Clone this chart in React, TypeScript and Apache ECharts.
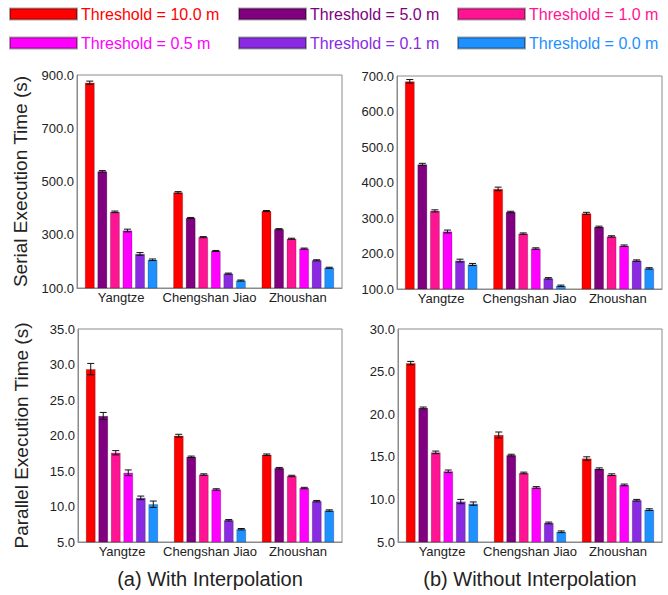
import React, { useEffect, useRef } from "react";
import * as echarts from "echarts";

const categories = ["Yangtze", "Chengshan Jiao", "Zhoushan"];
const thresholds = [
  "Threshold = 10.0 m",
  "Threshold = 5.0 m",
  "Threshold = 1.0 m",
  "Threshold = 0.5 m",
  "Threshold = 0.1 m",
  "Threshold = 0.0 m",
];
const colors = ["#FF0000", "#800080", "#FF1493", "#FF00FF", "#8A2BE2", "#1E90FF"];

// values per threshold (rows) across categories (columns)
const serialWith = [
  [871, 459, 389],
  [538, 363, 321],
  [386, 291, 285],
  [316, 239, 248],
  [228, 154, 204],
  [206, 128, 176],
];
const serialWithErr = [
  [6, 3, 2],
  [3, 2, 2],
  [3, 2, 2],
  [5, 2, 2],
  [5, 2, 2],
  [3, 2, 2],
];
const serialWithout = [
  [685, 382, 313],
  [451, 317, 275],
  [320, 256, 248],
  [262, 214, 222],
  [180, 130, 180],
  [169, 109, 158],
];
const serialWithoutErr = [
  [5, 5, 3],
  [3, 2, 2],
  [3, 2, 2],
  [4, 2, 2],
  [4, 2, 2],
  [3, 2, 2],
];
const parallelWith = [
  [29.35, 19.97, 17.3],
  [22.75, 17.0, 15.4],
  [17.57, 14.5, 14.3],
  [14.75, 12.4, 12.6],
  [11.22, 8.06, 10.75],
  [10.32, 6.8, 9.43],
];
const parallelWithErr = [
  [0.8, 0.2, 0.1],
  [0.5, 0.1, 0.1],
  [0.3, 0.1, 0.1],
  [0.4, 0.1, 0.1],
  [0.25, 0.1, 0.1],
  [0.45, 0.1, 0.1],
];
const parallelWithout = [
  [26.0, 17.56, 14.8],
  [20.74, 15.2, 13.6],
  [15.52, 13.1, 12.9],
  [13.3, 11.4, 11.7],
  [9.75, 7.24, 9.9],
  [9.5, 6.2, 8.8],
];
const parallelWithoutErr = [
  [0.2, 0.35, 0.2],
  [0.1, 0.1, 0.1],
  [0.15, 0.1, 0.1],
  [0.15, 0.1, 0.1],
  [0.25, 0.1, 0.1],
  [0.2, 0.1, 0.1],
];

const yTitles = ["Serial Execution Time (s)", "Parallel Execution Time (s)"];
const captions = ["(a) With Interpolation", "(b) Without Interpolation"];

const FONT = "'Liberation Sans', Arial, sans-serif";
const CAT_GAP = 0.18;
const BAR_GAP = 0.3;

const panels = [
  { vals: serialWith, errs: serialWithErr, min: 100, max: 900, interval: 200, grid: { left: 77, top: 75, width: 265, height: 213 }, title: yTitles[0] },
  { vals: serialWithout, errs: serialWithoutErr, min: 100, max: 700, interval: 100, grid: { left: 397, top: 76, width: 265, height: 213 }, title: "" },
  { vals: parallelWith, errs: parallelWithErr, min: 5, max: 35, interval: 5, grid: { left: 78, top: 329, width: 264, height: 213 }, title: yTitles[1] },
  { vals: parallelWithout, errs: parallelWithoutErr, min: 5, max: 30, interval: 5, grid: { left: 398, top: 329, width: 264, height: 213 }, title: "" },
];

export default function App() {
  const ref = useRef<HTMLDivElement>(null);
  useEffect(() => {
    if (!ref.current) return;
    const chart = echarts.init(ref.current, null, { renderer: "svg" });

    const grids: any[] = [];
    const xAxes: any[] = [];
    const yAxes: any[] = [];
    const series: any[] = [];

    panels.forEach((p, gi) => {
      grids.push({ ...p.grid, show: true, borderColor: "#8a8a8a", borderWidth: 1, containLabel: false });
      xAxes.push({
        type: "category",
        gridIndex: gi,
        data: categories,
        axisTick: { show: false },
        axisLine: { show: true, lineStyle: { color: "#8a8a8a", width: 1 } },
        axisLabel: { interval: 0, margin: 3, fontSize: 13, color: "#222", fontFamily: FONT },
      });
      yAxes.push({
        type: "value",
        gridIndex: gi,
        min: p.min,
        max: p.max,
        interval: p.interval,
        splitLine: { show: false },
        axisTick: { show: false },
        axisLine: { show: true, lineStyle: { color: "#8a8a8a", width: 1 } },
        axisLabel: { margin: 3, fontSize: 13, color: "#222", fontFamily: FONT, formatter: (v: number) => v.toFixed(1) },
        name: p.title,
        nameLocation: "middle",
        nameGap: 47,
        nameTextStyle: { fontSize: 19, color: "#222", fontFamily: FONT },
      });
      p.vals.forEach((row, si) => {
        series.push({
          type: "bar",
          name: thresholds[si],
          xAxisIndex: gi,
          yAxisIndex: gi,
          data: row,
          barCategoryGap: CAT_GAP * 100 + "%",
          barGap: BAR_GAP * 100 + "%",
          itemStyle: { color: colors[si], borderColor: "rgba(0,0,0,0.35)", borderWidth: 0.6 },
          z: 2,
        });
      });
      const errData: number[][] = [];
      p.vals.forEach((row, si) => {
        row.forEach((v, ci) => {
          const e = p.errs[si][ci];
          errData.push([ci, v - e, v + e, si]);
        });
      });
      series.push({
        type: "custom",
        name: "err" + gi,
        xAxisIndex: gi,
        yAxisIndex: gi,
        data: errData,
        encode: { x: 0, y: [1, 2] },
        z: 5,
        renderItem: (params: any, api: any) => {
          const ci = api.value(0);
          const lo = api.value(1);
          const hi = api.value(2);
          const si = api.value(3);
          const band = api.size([1, 0])[0];
          const bw = (band * (1 - CAT_GAP)) / (6 + 5 * BAR_GAP);
          const off = (si - 2.5) * bw * (1 + BAR_GAP);
          const pHi = api.coord([ci, hi]);
          const pLo = api.coord([ci, lo]);
          const x = pHi[0] + off;
          const cap = 3.5;
          const style = { stroke: "#111", lineWidth: 1 };
          return {
            type: "group",
            children: [
              { type: "line", shape: { x1: x, y1: pHi[1], x2: x, y2: pLo[1] }, style },
              { type: "line", shape: { x1: x - cap, y1: pHi[1], x2: x + cap, y2: pHi[1] }, style },
              { type: "line", shape: { x1: x - cap, y1: pLo[1], x2: x + cap, y2: pLo[1] }, style },
            ],
          };
        },
      });
    });

    const legendPos = [
      { left: 9, top: 6 },
      { left: 238, top: 6 },
      { left: 457, top: 6 },
      { left: 9, top: 35 },
      { left: 238, top: 35 },
      { left: 457, top: 35 },
    ];
    const legends = thresholds.map((t, i) => ({
      data: [t],
      left: legendPos[i].left,
      top: legendPos[i].top,
      padding: 0,
      icon: "rect",
      itemWidth: 67,
      itemHeight: 11,
      selectedMode: false,
      textStyle: { fontSize: 16, color: colors[i], fontFamily: FONT, lineHeight: 16, padding: [0, 0, 0, -1] },
    }));

    chart.setOption({
      animation: false,
      backgroundColor: "#fff",
      textStyle: { fontFamily: FONT },
      grid: grids,
      xAxis: xAxes,
      yAxis: yAxes,
      legend: legends,
      series,
      graphic: [
        { type: "text", x: 210, y: 579, style: { text: captions[0], fontSize: 20, fill: "#222", fontFamily: FONT, textAlign: "center", textVerticalAlign: "middle" } },
        { type: "text", x: 530, y: 579, style: { text: captions[1], fontSize: 20, fill: "#222", fontFamily: FONT, textAlign: "center", textVerticalAlign: "middle" } },
      ],
    });
    return () => chart.dispose();
  }, []);
  return <div ref={ref} style={{ position: "fixed", left: 0, top: 0, width: 668, height: 595 }} />;
}
